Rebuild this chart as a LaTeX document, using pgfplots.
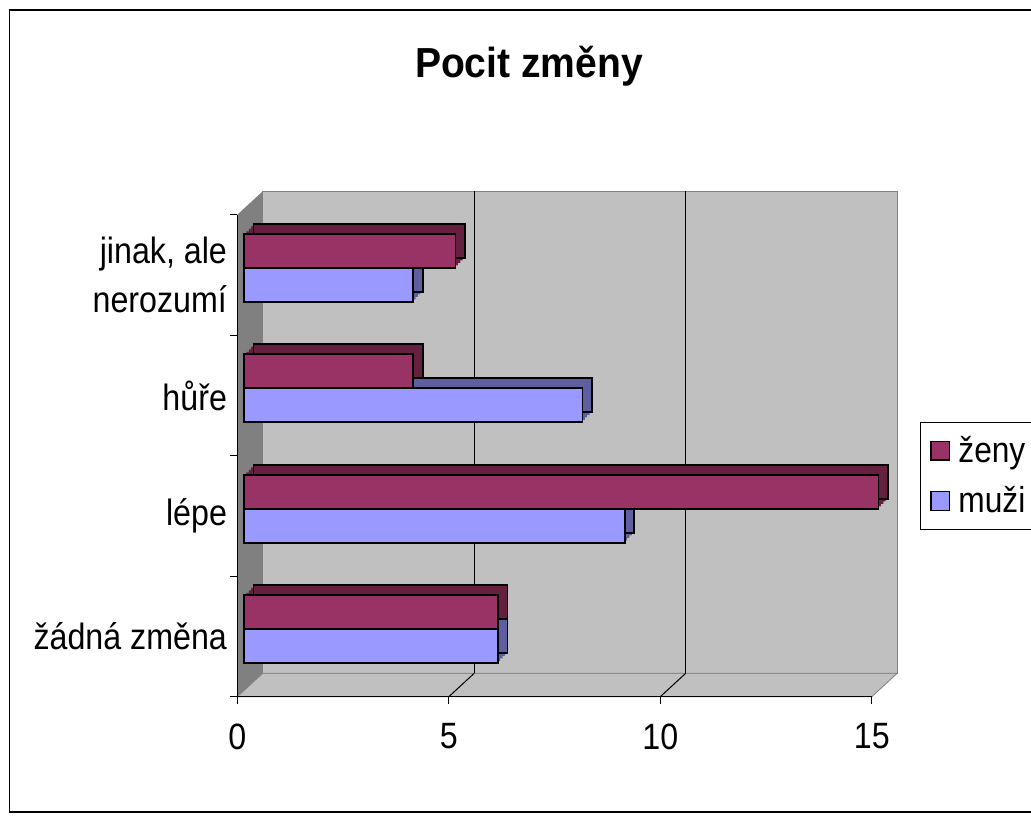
\documentclass[border=0pt]{standalone}
\usepackage{fontspec}
\setmainfont{Liberation Sans}
\usepackage{graphicx}
\usepackage{pgfplots}
\pgfplotsset{compat=1.18}

\definecolor{zeny}{HTML}{993366}
\definecolor{zenyd}{HTML}{66203F}
\definecolor{muzi}{HTML}{9999FF}
\definecolor{muzid}{HTML}{5F5F9F}
\definecolor{wall}{HTML}{C0C0C0}
\definecolor{side}{HTML}{808080}

% Arial-like text, a little narrower as in the original
\newcommand\nw[1]{\scalebox{0.88}[1]{#1}}

\begin{document}
\begin{tikzpicture}
\useasboundingbox (0,0) rectangle (515.5pt,-411pt);
\draw[black, line width=0.6pt] (4.8pt,-5pt) rectangle (530pt,-406pt);
\node[font=\fontsize{21}{25}\selectfont\bfseries] at (264.5pt,-33pt) {\scalebox{0.93}[1]{Pocit změny}};

\begin{axis}[
    at={(122pt,-344.75pt)}, anchor=south west,
    scale only axis, width=317.25pt, height=241pt,
    xbar, bar width=17pt,
    xmin=0, xmax=15, ymin=-0.5, ymax=3.5,
    axis line style={draw=none}, major tick length=0pt,
    xtick={0,5,10,15}, xticklabels={\nw{0},\nw{5},\nw{10},\nw{15}},
    ytick={0,1,2,3},
    yticklabels={\nw{žádná změna}, \nw{lépe}, \nw{hůře}, {\nw{jinak, ale}\\\nw{nerozumí}}},
    tick label style={font=\fontsize{18.3}{24.5}\selectfont},
    xticklabel style={xshift=-3.35pt, yshift=-13.5pt},
    yticklabel style={align=right, xshift=-5pt, yshift=-3.6pt},
    clip=false,
    legend style={at={(1.0654,0.5556)}, anchor=north west, draw=black,
        font=\fontsize{18}{21}\selectfont, row sep=6.5pt, inner ysep=5pt,
        inner xsep=5pt, cells={anchor=west}},
]
% walls
\fill[wall, draw=side, shift={(9.35pt,8.1pt)}] (axis cs:0,-0.5) rectangle (axis cs:15,3.5);
\fill[side] ([shift={(-3.35pt,-3.6pt)}]axis cs:0,-0.5) -- ([shift={(9.35pt,8.1pt)}]axis cs:0,-0.5)
    -- ([shift={(9.35pt,8.1pt)}]axis cs:0,3.5) -- ([shift={(-3.35pt,-3.6pt)}]axis cs:0,3.5) -- cycle;
\fill[wall, draw=side] ([shift={(-3.35pt,-3.6pt)}]axis cs:0,-0.5) -- ([shift={(-3.35pt,-3.6pt)}]axis cs:15,-0.5)
    -- ([shift={(9.35pt,8.1pt)}]axis cs:15,-0.5) -- ([shift={(9.35pt,8.1pt)}]axis cs:0,-0.5) -- cycle;
\pgfplotsinvokeforeach{5,10}{
  \draw[black, line width=0.5pt] ([shift={(9.35pt,8.1pt)}]axis cs:#1,-0.5) -- ([shift={(9.35pt,8.1pt)}]axis cs:#1,3.5);
  \draw[black, line width=0.5pt] ([shift={(-3.35pt,-3.6pt)}]axis cs:#1,-0.5) -- ([shift={(9.35pt,8.1pt)}]axis cs:#1,-0.5);
}
\draw[black, line width=0.6pt] ([shift={(-3.35pt,-3.6pt)}]axis cs:0,3.5) -- ([shift={(-3.35pt,-3.6pt)}]axis cs:0,-0.5)
    -- ([shift={(-3.35pt,-3.6pt)}]axis cs:15,-0.5);
\pgfplotsinvokeforeach{0,5,10,15}{
  \draw[black, line width=0.6pt] ([shift={(-3.35pt,-3.6pt)}]axis cs:#1,-0.5) -- ([shift={(-3.35pt,-7pt)}]axis cs:#1,-0.5);
}
\pgfplotsinvokeforeach{-0.5,0.5,1.5,2.5,3.5}{
  \draw[black, line width=0.6pt] ([shift={(-3.35pt,-3.6pt)}]axis cs:0,#1) -- ([shift={(-7pt,-3.6pt)}]axis cs:0,#1);
}

% bar depth (stacked copies give the slanted edges)
\pgfplotsinvokeforeach{0.25,0.5,0.75}{
\addplot[forget plot, fill=muzid, draw=none, bar shift=-8.5pt, xshift=#1*4.75pt, yshift=#1*5pt]
  coordinates {(6,0) (9,1) (8,2) (4,3)};
\addplot[forget plot, fill=zenyd, draw=none, bar shift=8.5pt, xshift=#1*4.75pt, yshift=#1*5pt]
  coordinates {(6,0) (15,1) (4,2) (5,3)};
}
\addplot[forget plot, fill=muzid, draw=black, line width=0.8pt, bar shift=-8.5pt,
    xshift=4.75pt, yshift=5pt]
  coordinates {(6,0) (9,1) (8,2) (4,3)};
\addplot[forget plot, fill=zenyd, draw=black, line width=0.8pt, bar shift=8.5pt,
    xshift=4.75pt, yshift=5pt]
  coordinates {(6,0) (15,1) (4,2) (5,3)};

% bar fronts
\addplot[fill=zeny, draw=black, line width=0.8pt, bar shift=8.5pt,
    legend image code/.code={\draw[fill=zeny, draw=black] (0pt,-4.7pt) rectangle (9.2pt,4.7pt);}]
  coordinates {(6,0) (15,1) (4,2) (5,3)};
\addplot[fill=muzi, draw=black, line width=0.8pt, bar shift=-8.5pt,
    legend image code/.code={\draw[fill=muzi, draw=black] (0pt,-4.7pt) rectangle (9.2pt,4.7pt);}]
  coordinates {(6,0) (9,1) (8,2) (4,3)};
\legend{\hspace{2pt}\nw{ženy}\hspace{12pt}, \hspace{2pt}\nw{muži}\hspace{12pt}}
\end{axis}
\end{tikzpicture}
\end{document}
